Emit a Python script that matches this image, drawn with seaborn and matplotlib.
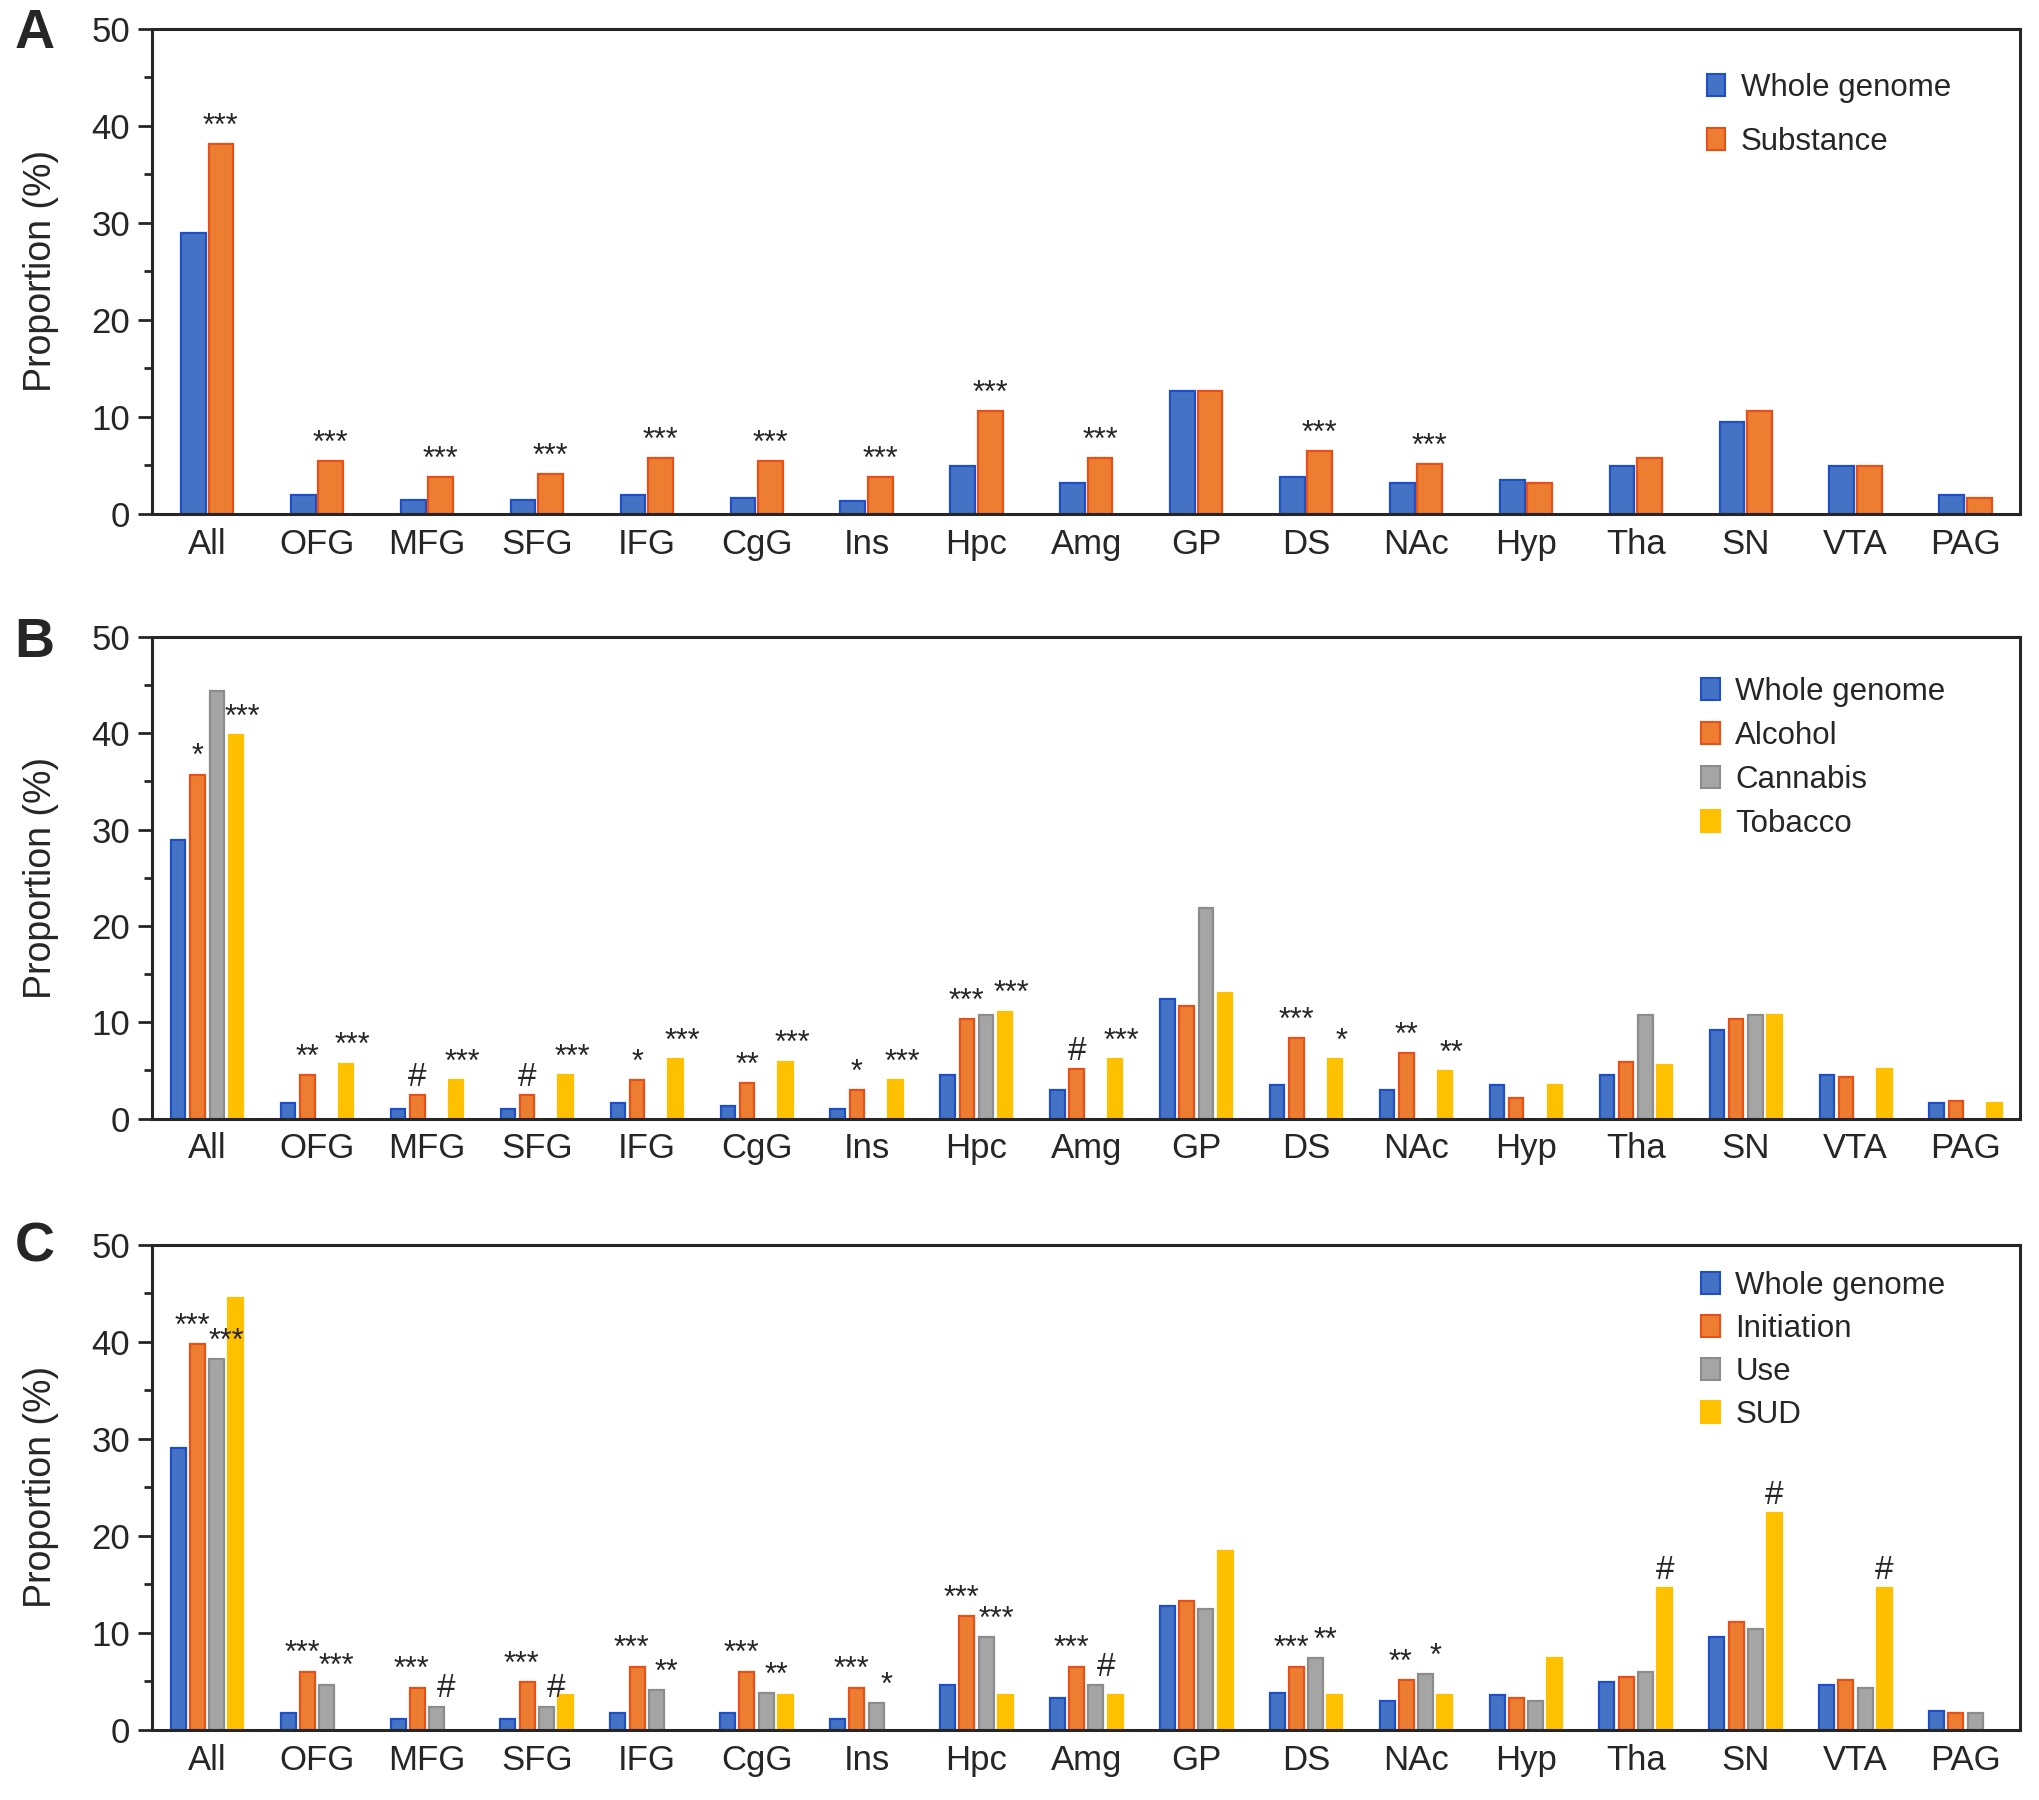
import matplotlib.pyplot as plt
import numpy as np
import pandas as pd
import seaborn as sns
from matplotlib.patches import Patch
from matplotlib.ticker import MultipleLocator

nan = np.nan

# ----------------------------------------------------------------------------
# Data
# ----------------------------------------------------------------------------
REGIONS = ["All", "OFG", "MFG", "SFG", "IFG", "CgG", "Ins", "Hpc", "Amg",
           "GP", "DS", "NAc", "Hyp", "Tha", "SN", "VTA", "PAG"]

# Panel A
a_series = ["Whole genome", "Substance"]
a_genome = [28.9, 1.9, 1.4, 1.4, 1.9, 1.6, 1.35, 4.9, 3.2, 12.7, 3.8, 3.2, 3.5, 4.9, 9.5, 4.9, 1.9]
a_substance = [38.1, 5.4, 3.8, 4.05, 5.7, 5.4, 3.8, 10.55, 5.7, 12.7, 6.45, 5.1, 3.2, 5.7, 10.55, 4.9, 1.6]
a_genome_sig = [""] * 17
a_substance_sig = ["***", "***", "***", "***", "***", "***", "***", "***", "***", "",
                   "***", "***", "", "", "", "", ""]

# Panel B
b_series = ["Whole genome", "Alcohol", "Cannabis", "Tobacco"]
b_genome = [28.9, 1.6, 1.0, 1.0, 1.6, 1.3, 1.0, 4.5, 2.95, 12.45, 3.45, 2.95, 3.45, 4.5, 9.2, 4.5, 1.6]
b_alcohol = [35.7, 4.5, 2.4, 2.4, 4.0, 3.7, 2.95, 10.3, 5.1, 11.65, 8.35, 6.8, 2.1, 5.9, 10.3, 4.3, 1.85]
b_cannabis = [44.4, nan, nan, nan, nan, nan, nan, 10.8, nan, 21.9, nan, nan, nan, 10.8, 10.8, nan, nan]
b_tobacco = [39.8, 5.7, 4.0, 4.5, 6.2, 5.9, 4.0, 11.1, 6.2, 13.0, 6.2, 4.9, 3.45, 5.6, 10.8, 5.1, 1.6]
b_genome_sig = [""] * 17
b_alcohol_sig = ["*", "**", "#", "#", "*", "**", "*", "***", "#", "", "***", "**",
                 "", "", "", "", ""]
b_cannabis_sig = [""] * 17
b_tobacco_sig = ["***", "***", "***", "***", "***", "***", "***", "***", "***", "",
                 "*", "**", "", "", "", "", ""]

# Panel C
c_series = ["Whole genome", "Initiation", "Use", "SUD"]
c_genome = [29.0, 1.7, 1.1, 1.1, 1.7, 1.7, 1.1, 4.65, 3.3, 12.75, 3.8, 3.0, 3.55, 4.9, 9.55, 4.65, 1.95]
c_initiation = [39.75, 6.0, 4.35, 4.9, 6.5, 6.0, 4.35, 11.7, 6.5, 13.3, 6.5, 5.15, 3.3, 5.45, 11.15, 5.15, 1.7]
c_use = [38.2, 4.65, 2.4, 2.4, 4.1, 3.8, 2.75, 9.55, 4.6, 12.5, 7.4, 5.7, 3.0, 6.0, 10.35, 4.35, 1.7]
c_sud = [44.5, nan, nan, 3.55, nan, 3.55, nan, 3.55, 3.55, 18.45, 3.55, 3.55, 7.4, 14.6, 22.3, 14.6, nan]
c_genome_sig = [""] * 17
c_initiation_sig = ["***", "***", "***", "***", "***", "***", "***", "***", "***", "",
                    "***", "**", "", "", "", "", ""]
c_use_sig = ["***", "***", "#", "#", "**", "**", "*", "***", "#", "", "**", "*",
             "", "", "", "", ""]
c_sud_sig = ["", "", "", "", "", "", "", "", "", "", "", "", "", "#", "#", "#", ""]

FILL = ["#4472C4", "#ED7D31", "#A5A5A5", "#FFC000"]
EDGE = ["#1F4FC8", "#E8501A", "#8C8C8C", "#FFC000"]

FONT = ["Liberation Sans", "DejaVu Sans"]


def draw_panel(ax, series, values, sigs, width, gap, legend_xy, labelspacing,
               mark_shift):
    """Grouped bar chart for one panel, with significance marks."""
    frames = []
    for name, vals in zip(series, values):
        frames.append(pd.DataFrame({"Region": REGIONS, "Proportion": vals, "Series": name}))
    df = pd.concat(frames, ignore_index=True)

    sns.barplot(data=df, x="Region", y="Proportion", hue="Series",
                order=REGIONS, hue_order=series, palette=FILL[:len(series)],
                saturation=1, width=width, gap=gap, errorbar=None, legend=False,
                linewidth=1.6, ax=ax)

    n = len(series)
    slot = width / n
    for patch in ax.patches:
        h = patch.get_height()
        if h is None or np.isnan(h):
            continue
        cx = patch.get_x() + patch.get_width() / 2
        cat = int(round(cx))
        k = int(round((cx - cat + width / 2 - slot / 2) / slot))
        k = max(0, min(n - 1, k))
        patch.set_edgecolor(EDGE[k])
        mark = sigs[k][cat]
        if mark:
            ax.text(cx + mark_shift[k], h + 0.25, mark, ha="center", va="bottom",
                    fontsize=22 if mark != "#" else 24, family=FONT)

    ax.set_xlim(-0.5, len(REGIONS) - 0.5)
    ax.set_ylim(0, 50)
    ax.yaxis.set_major_locator(MultipleLocator(10))
    ax.yaxis.set_minor_locator(MultipleLocator(5))
    ax.tick_params(axis="x", length=0, pad=10, labelsize=25)
    ax.tick_params(axis="y", which="major", length=10, width=2, labelsize=25, pad=6)
    ax.tick_params(axis="y", which="minor", length=6, width=2)
    for sp in ax.spines.values():
        sp.set_linewidth(2.2)
        sp.set_visible(True)
    ax.set_xlabel("")
    ax.set_ylabel("Proportion (%)", fontsize=27)
    ax.yaxis.set_label_coords(-0.05, 0.5)

    handles = [Patch(facecolor=FILL[i], edgecolor=EDGE[i], linewidth=1.5, label=s)
               for i, s in enumerate(series)]
    ax.legend(handles=handles, loc="upper left", bbox_to_anchor=legend_xy,
              frameon=False, fontsize=22.5, handlelength=0.6, handleheight=0.7,
              handletextpad=0.5, labelspacing=labelspacing,
              borderpad=0, borderaxespad=0)


def main():
    sns.set_style("ticks")
    plt.rcParams["font.family"] = FONT

    fig = plt.figure(figsize=(20.4, 18), dpi=100)
    ax_a = fig.add_axes([0.0746, 0.7146, 0.9158, 0.2695])
    ax_b = fig.add_axes([0.0746, 0.3786, 0.9158, 0.2675])
    ax_c = fig.add_axes([0.0746, 0.0390, 0.9158, 0.2695])

    draw_panel(ax_a, a_series, [a_genome, a_substance],
               [a_genome_sig, a_substance_sig], 0.5, 0.1, (0.832, 0.908), 0.75,
               [0, 0])
    draw_panel(ax_b, b_series, [b_genome, b_alcohol, b_cannabis, b_tobacco],
               [b_genome_sig, b_alcohol_sig, b_cannabis_sig, b_tobacco_sig],
               0.7, 0.25, (0.829, 0.918), 0.45, [0, 0, 0, 0.06])
    draw_panel(ax_c, c_series, [c_genome, c_initiation, c_use, c_sud],
               [c_genome_sig, c_initiation_sig, c_use_sig, c_sud_sig],
               0.7, 0.22, (0.829, 0.946), 0.42, [0, -0.05, 0.09, 0])

    for letter, y in [("A", 0.981), ("B", 0.643), ("C", 0.307)]:
        fig.text(0.017, y, letter, fontsize=40, fontweight="bold",
                 ha="center", va="center")

    fig.savefig("out.png", dpi=100)
    plt.close(fig)


if __name__ == "__main__":
    main()
